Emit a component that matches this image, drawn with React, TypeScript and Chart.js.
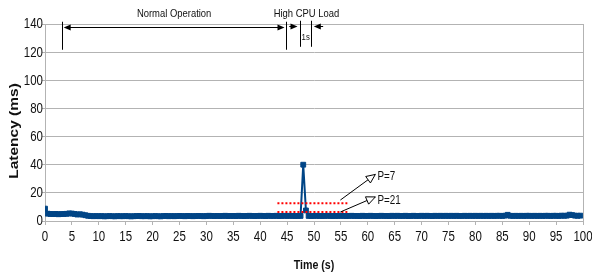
import React, { useEffect, useRef } from "react";
import { Chart, registerables } from "chart.js";

Chart.register(...registerables);

// Sampling times (s), every 0.5 s
const STEP = 0.5;
// Latency (ms) samples, one row = 5 s
const latency: number[] = [
  8.8, 5.2, 5.0, 4.9, 5.0, 4.8, 4.9, 5.0, 5.1, 5.4,
  5.3, 5.0, 4.6, 4.8, 4.5, 4.1, 3.7, 3.5, 3.4, 3.5,
  3.4, 3.5, 3.3, 3.4, 3.5, 3.4, 3.3, 3.5, 3.4, 3.4,
  3.5, 3.4, 3.3, 3.4, 3.5, 3.6, 3.4, 3.4, 3.5, 3.3,
  3.4, 3.5, 3.4, 3.3, 3.5, 3.6, 3.4, 3.5, 3.4, 3.5,
  3.6, 3.5, 3.4, 3.6, 3.5, 3.4, 3.5, 3.6, 3.5, 3.4,
  3.5, 3.7, 3.6, 3.5, 3.6, 3.5, 3.6, 3.7, 3.5, 3.6,
  3.6, 3.5, 3.7, 3.6, 3.5, 3.6, 3.7, 3.6, 3.5, 3.6,
  3.7, 3.6, 3.5, 3.7, 3.6, 3.6, 3.7, 3.5, 3.6, 3.7,
  3.6, 3.7, 3.6, 3.5, 3.6, 3.6, 40.0, 7.5, 3.6, 3.5,
  3.6, 3.7, 3.6, 3.5, 3.6, 3.7, 3.6, 3.5, 3.6, 3.6,
  3.7, 3.6, 3.5, 3.6, 3.7, 3.6, 3.6, 3.5, 3.7, 3.6,
  3.6, 3.7, 3.6, 3.5, 3.6, 3.7, 3.6, 3.6, 3.5, 3.7,
  3.6, 3.7, 3.6, 3.6, 3.7, 3.5, 3.6, 3.7, 3.6, 3.6,
  3.7, 3.6, 3.7, 3.6, 3.5, 3.7, 3.6, 3.7, 3.6, 3.7,
  3.6, 3.7, 3.6, 3.7, 3.6, 3.6, 3.7, 3.6, 3.7, 3.6,
  3.7, 3.6, 3.7, 3.6, 3.7, 3.6, 3.7, 3.6, 3.7, 3.7,
  3.6, 3.8, 4.4, 3.7, 3.6, 3.7, 3.6, 3.7, 3.6, 3.7,
  3.7, 3.6, 3.7, 3.6, 3.7, 3.6, 3.7, 3.7, 3.6, 3.7,
  3.7, 3.6, 3.8, 3.7, 3.8, 4.5, 4.2, 3.8, 3.7, 3.8,
];

// Red dotted threshold lines: x range and levels
const thresholdX: [number, number] = [43.2, 56.2];
const thresholdLevels: number[] = [12.6, 6.4];
const thresholdLabels: string[] = ["P=7", "P=21"];

// Axis ticks
const xMin = 0, xMax = 100, xStep = 5;
const yMin = 0, yMax = 140, yStep = 20;
const xTitle = "Time (s)";
const yTitle = "Latency (ms)";

// Phase annotations (time in s)
const normalStart = 3.2;
const normalEnd = 44.8;
const loadStart = 47.4;
const loadEnd = 49.5;

const BLUE = "#004586";
const GRID = "#b3b3b3";
const SANS = "'Liberation Sans', Arial, sans-serif";
const SQUEEZE = 0.82;

function text(
  ctx: CanvasRenderingContext2D,
  s: string,
  x: number,
  y: number,
  font: string,
  align: CanvasTextAlign,
  color = "#111"
) {
  ctx.save();
  ctx.translate(x, y);
  ctx.scale(SQUEEZE, 1);
  ctx.font = font;
  ctx.textAlign = align;
  ctx.textBaseline = "middle";
  ctx.fillStyle = color;
  ctx.fillText(s, 0, 0);
  ctx.restore();
}

function filledHead(ctx: CanvasRenderingContext2D, tx: number, ty: number, dir: number) {
  ctx.beginPath();
  ctx.moveTo(tx, ty);
  ctx.lineTo(tx - dir * 7, ty - 3);
  ctx.lineTo(tx - dir * 7, ty + 3);
  ctx.closePath();
  ctx.fill();
}

function openHead(ctx: CanvasRenderingContext2D, x0: number, y0: number, x1: number, y1: number) {
  const a = Math.atan2(y1 - y0, x1 - x0);
  const L = 9, W = 4;
  const bx = x1 - L * Math.cos(a), by = y1 - L * Math.sin(a);
  ctx.beginPath();
  ctx.moveTo(x1, y1);
  ctx.lineTo(bx + W * Math.sin(a), by - W * Math.cos(a));
  ctx.lineTo(bx - W * Math.sin(a), by + W * Math.cos(a));
  ctx.closePath();
  ctx.fillStyle = "#fff";
  ctx.fill();
  ctx.stroke();
}

const annotPlugin = {
  id: "annot",
  afterDraw(chart: any) {
    const { ctx, scales, chartArea } = chart;
    const X = (v: number) => scales.x.getPixelForValue(v);
    const Y = (v: number) => scales.y.getPixelForValue(v);
    ctx.save();
    ctx.strokeStyle = "#000";
    ctx.fillStyle = "#000";
    ctx.lineWidth = 1;

    // Tick labels
    const tickFont = `14px ${SANS}`;
    scales.x.ticks.forEach((t: any) => {
      text(ctx, String(t.value), X(t.value), chartArea.bottom + 16, tickFont, "center");
    });
    scales.y.ticks.forEach((t: any) => {
      text(ctx, String(t.value), chartArea.left - 2, Y(t.value) + 0.5, tickFont, "right");
    });

    // Axis titles
    text(ctx, xTitle, (chartArea.left + chartArea.right) / 2, 265, `bold 13px ${SANS}`, "center");
    ctx.save();
    ctx.translate(15, 131);
    ctx.scale(0.78, 1);
    ctx.rotate(-Math.PI / 2);
    ctx.font = `bold 15.5px ${SANS}`;
    ctx.textAlign = "center";
    ctx.textBaseline = "middle";
    ctx.fillStyle = "#111";
    ctx.fillText(yTitle, 0, 0);
    ctx.restore();

    // Normal operation span
    ctx.fillStyle = "#000";
    const ay = Math.round(Y(138.1)) + 0.5;
    const vTop = Y(141.6), vBot = Y(121.7);
    ctx.beginPath();
    ctx.moveTo(Math.round(X(normalStart)) + 0.5, vTop);
    ctx.lineTo(Math.round(X(normalStart)) + 0.5, vBot);
    ctx.moveTo(Math.round(X(normalEnd)) + 0.5, vTop);
    ctx.lineTo(Math.round(X(normalEnd)) + 0.5, vBot);
    ctx.moveTo(X(normalStart) + 4, ay);
    ctx.lineTo(X(normalEnd) - 4, ay);
    ctx.stroke();
    filledHead(ctx, X(normalStart) + 1.5, ay, -1);
    filledHead(ctx, X(normalEnd) - 1.5, ay, 1);

    // High CPU load 1 s span
    const sTop = Y(142.3), sBot = Y(123.8);
    const sy = Math.round(Y(138.8)) + 0.5;
    ctx.beginPath();
    ctx.moveTo(Math.round(X(loadStart)) + 0.5, sTop);
    ctx.lineTo(Math.round(X(loadStart)) + 0.5, sBot);
    ctx.moveTo(Math.round(X(loadEnd)) + 0.5, sTop);
    ctx.lineTo(Math.round(X(loadEnd)) + 0.5, sBot);
    ctx.moveTo(X(45.4), sy);
    ctx.lineTo(X(loadStart) - 4, sy);
    ctx.moveTo(X(51.7), sy);
    ctx.lineTo(X(loadEnd) + 4, sy);
    ctx.stroke();
    filledHead(ctx, X(loadStart) - 2.5, sy, 1);
    filledHead(ctx, X(loadEnd) + 2.5, sy, -1);

    text(ctx, "Normal Operation", X((normalStart + normalEnd) / 2), Y(147.4), `11.5px ${SANS}`, "center");
    text(ctx, "High CPU Load", X(48.6), Y(147.4), `11.5px ${SANS}`, "center");
    text(ctx, "1s", X((loadStart + loadEnd) / 2), Y(130.2), `9.5px ${SANS}`, "center");

    // Callout arrows for thresholds
    const callouts = [
      { from: [54.9, 14.9], to: [61.4, 33.1], label: [61.8, 31.7] },
      { from: [54.9, 6.4], to: [61.4, 17.1], label: [61.8, 14.2] },
    ];
    callouts.forEach((c, i) => {
      const x0 = X(c.from[0]), y0 = Y(c.from[1]);
      const x1 = X(c.to[0]), y1 = Y(c.to[1]);
      ctx.strokeStyle = "#000";
      ctx.beginPath();
      ctx.moveTo(x0, y0);
      ctx.lineTo(x1, y1);
      ctx.stroke();
      openHead(ctx, x0, y0, x1, y1);
      text(ctx, thresholdLabels[i], X(c.label[0]), Y(c.label[1]), `12px ${SANS}`, "left");
    });

    ctx.restore();
  },
};

export default function App() {
  const ref = useRef<HTMLCanvasElement | null>(null);
  useEffect(() => {
    if (!ref.current) return;
    const points = latency.map((v, i) => ({ x: i * STEP, y: v }));
    const chart = new Chart(ref.current, {
      type: "line",
      data: {
        datasets: [
          ...thresholdLevels.map((lv) => ({
            label: "threshold",
            data: [
              { x: thresholdX[0], y: lv },
              { x: thresholdX[1], y: lv },
            ],
            borderColor: "#ff0000",
            borderWidth: 2,
            borderDash: [2, 2],
            pointRadius: 0,
            fill: false,
          })),
          {
            label: "Latency",
            data: points,
            borderColor: BLUE,
            backgroundColor: BLUE,
            borderWidth: 2,
            pointStyle: "rect",
            pointRadius: 3.4,
            pointBorderWidth: 1,
            pointBackgroundColor: BLUE,
            pointBorderColor: BLUE,
            tension: 0,
            fill: false,
          },
        ],
      },
      options: {
        animation: false,
        responsive: false,
        maintainAspectRatio: false,
        layout: { padding: { top: 24, right: 9, left: 0, bottom: 0 } },
        plugins: { legend: { display: false }, tooltip: { enabled: false } },
        scales: {
          x: {
            type: "linear",
            min: xMin,
            max: xMax,
            ticks: { stepSize: xStep, display: false, autoSkip: false },
            grid: {
              color: (c: any) => (c.tick && c.tick.value === xMax ? GRID : "rgba(0,0,0,0)"),
              tickColor: GRID,
              tickLength: 4,
              lineWidth: 1,
            },
            border: { display: true, color: GRID },
            afterFit: (s: any) => {
              s.height = 57;
            },
          },
          y: {
            min: yMin,
            max: yMax,
            ticks: { stepSize: yStep, display: false },
            grid: { color: GRID, tickColor: GRID, tickLength: 3, lineWidth: 1 },
            border: { display: true, color: GRID },
            afterFit: (s: any) => {
              s.width = 45;
            },
          },
        },
      },
      plugins: [annotPlugin],
    });
    return () => chart.destroy();
  }, []);
  return (
    <div style={{ position: "fixed", left: 0, top: 0, width: 592, height: 278, background: "#fff" }}>
      <canvas ref={ref} width={592} height={278} style={{ display: "block" }} />
    </div>
  );
}
